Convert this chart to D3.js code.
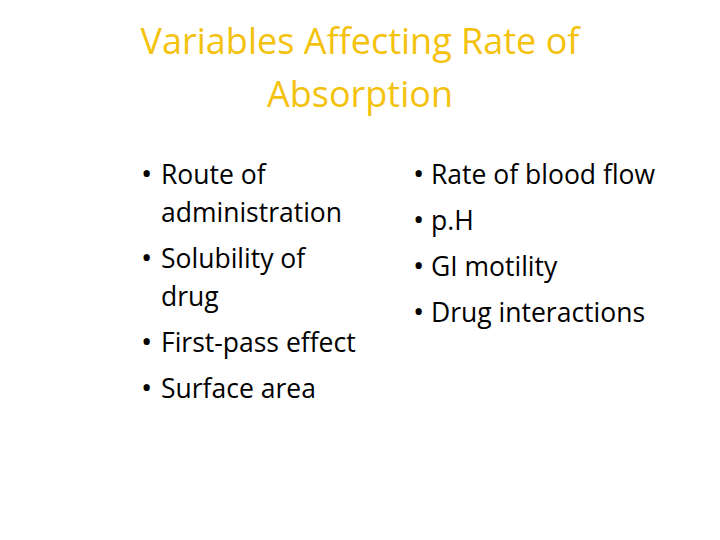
<!DOCTYPE html>
<html><head><meta charset="utf-8">
<script src="https://cdn.jsdelivr.net/npm/d3@7"></script>
<style>body{margin:0;background:#fff}</style>
</head><body>
<script>
var titleLines = ['Variables Affecting Rate of', 'Absorption'];
var leftItems = [['Route of', 'administration'], ['Solubility of', 'drug'], ['First-pass effect'], ['Surface area']];
var rightItems = [['Rate of blood flow'], ['p.H'], ['GI motility'], ['Drug interactions']];

var svg = d3.select('body').append('svg').attr('width', 720).attr('height', 540);
var font = 'Open Sans, sans-serif';

svg.selectAll('text.title').data(titleLines).enter().append('text')
  .attr('class', 'title')
  .attr('x', 360)
  .attr('y', function (d, i) { return 54 + i * 53; })
  .attr('text-anchor', 'middle')
  .style('font-family', font).style('font-size', '36px').style('fill', '#F4C20D')
  .text(function (d) { return d; });

function bullets(items, bx, tx, y0, lineH, gap) {
  var y = y0;
  items.forEach(function (lines) {
    svg.append('text').attr('x', bx).attr('y', y)
      .style('font-family', font).style('font-size', '30px').style('fill', '#000').text('•');
    lines.forEach(function (line, j) {
      svg.append('text').attr('x', tx).attr('y', y + j * lineH)
        .style('font-family', font).style('font-size', '26.5px').style('fill', '#000').text(line);
    });
    y += (lines.length - 1) * lineH + gap;
  });
}
bullets(leftItems, 141, 161, 184, 38, 46);
bullets(rightItems, 413, 431, 184, 38, 46);
</script>
</body></html>
